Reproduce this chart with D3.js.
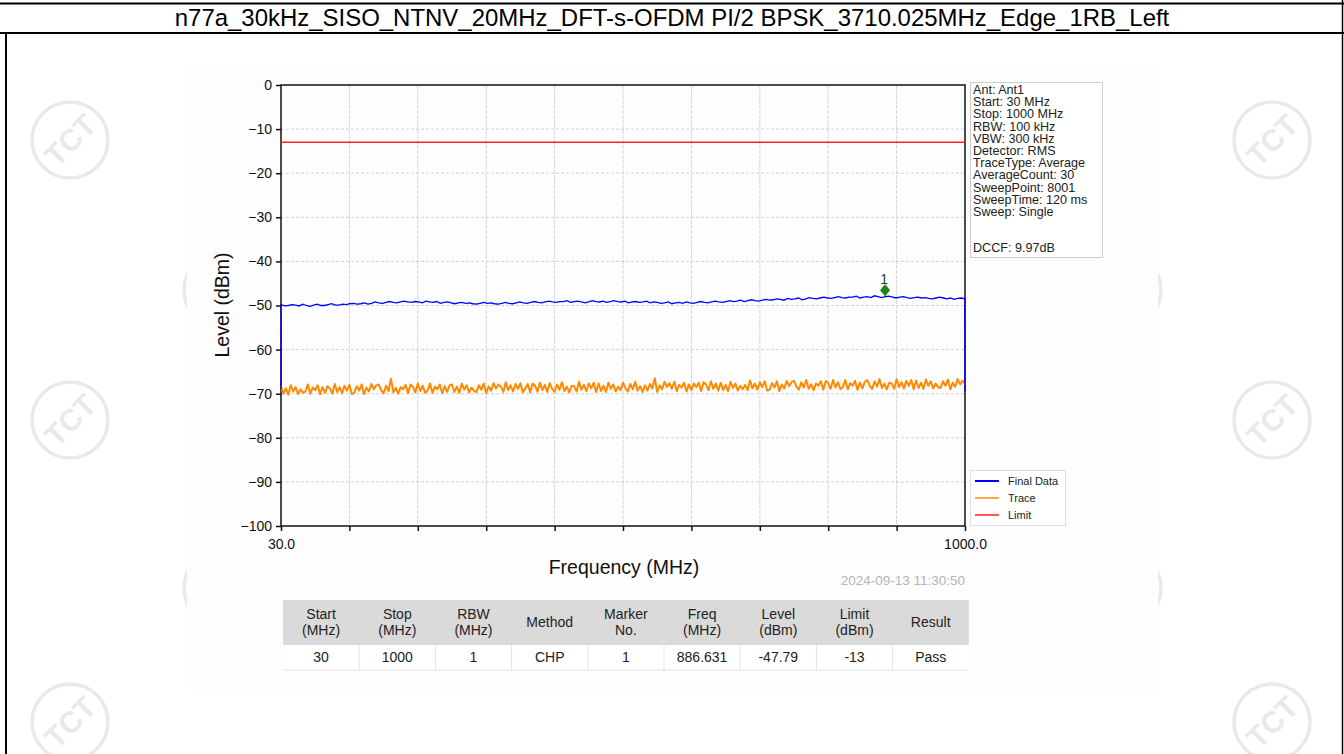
<!DOCTYPE html>
<html>
<head>
<meta charset="utf-8">
<script src="https://cdn.jsdelivr.net/npm/d3@7"></script>
<style>
  html, body { margin: 0; padding: 0; background: #ffffff; }
  svg { display: block; }
</style>
</head>
<body>
<svg id="chart" width="1344" height="754"></svg>
<script>
// ---------------- DATA ----------------
const titleText = "n77a_30kHz_SISO_NTNV_20MHz_DFT-s-OFDM PI/2 BPSK_3710.025MHz_Edge_1RB_Left";
const freqStart = 30, freqStop = 1000, sweepPoints = 8001;
const yTicks = [0, -10, -20, -30, -40, -50, -60, -70, -80, -90, -100];
const xTickLabels = ["30.0", "1000.0"];
const limitValue = -13;

// Final Data (blue): edge sweep points and the interior levels (dBm), evenly spaced
const finalEdgeStart = -69.0;
const finalEdgeStop = -69.5;
const finalData = [
  -49.8,-50.1,-50.0,-49.8,-49.9,-50.1,-49.7,-50.0,-50.2,-49.9,-49.7,-50.0,-50.0,-49.8,-49.6,-49.9,-49.9,-49.7,
  -49.8,-49.6,-49.5,-49.7,-49.6,-49.4,-49.7,-49.5,-49.2,-49.4,-49.5,-49.3,-49.1,-49.3,-49.4,-49.2,-49.0,-49.2,-49.3,-49.1,
  -49.2,-49.4,-49.0,-49.2,-49.3,-49.1,-49.5,-49.3,-49.2,-49.4,-49.6,-49.4,-49.3,-49.5,-49.4,-49.6,-49.7,-49.5,-49.3,-49.5,
  -49.4,-49.6,-49.7,-49.5,-49.3,-49.5,-49.6,-49.4,-49.2,-49.4,-49.5,-49.3,-49.1,-49.3,-49.4,-49.2,-49.0,-49.2,-49.3,-49.1,
  -49.1,-48.9,-49.3,-49.1,-49.0,-49.2,-49.4,-49.2,-48.9,-49.1,-49.2,-49.0,-49.3,-49.1,-48.9,-49.1,-49.2,-49.0,-49.4,-49.2,
  -49.1,-49.3,-49.2,-49.0,-49.4,-49.2,-49.3,-49.5,-49.4,-49.2,-49.6,-49.4,-49.3,-49.5,-49.2,-49.4,-49.5,-49.3,-49.1,-49.3,
  -49.4,-49.2,-49.0,-49.2,-49.3,-49.1,-48.9,-49.1,-49.0,-48.8,-49.1,-48.9,-48.7,-48.9,-49.0,-48.8,-48.6,-48.8,-48.7,-48.5,
  -48.6,-48.8,-48.4,-48.6,-48.5,-48.3,-48.7,-48.5,-48.2,-48.4,-48.5,-48.3,-48.1,-48.3,-48.4,-48.2,-48.0,-48.2,-48.3,-48.1,
  -48.1,-47.9,-48.3,-48.1,-48.0,-48.2,-47.8,-48.0,-48.2,-48.0,-47.9,-48.1,-48.3,-48.1,-48.0,-48.2,-48.4,-48.2,-48.1,-48.3,
  -48.2,-48.4,-48.5,-48.3,-48.1,-48.3,-48.5,-48.3,-48.6,-48.4,-48.3,-48.5
];

// Trace (orange) levels, dBm, evenly spaced over the sweep
const traceData = [
  -68.3,-70.0,-68.8,-70.2,-68.1,-69.5,-68.5,-70.1,-69.0,-69.8,
  -69.5,-67.9,-70.0,-68.6,-69.2,-68.1,-70.1,-68.5,-69.8,-68.3,
  -68.8,-70.0,-67.8,-69.6,-68.5,-69.9,-68.2,-69.3,-68.0,-70.1,
  -69.8,-68.3,-69.3,-67.9,-70.1,-68.6,-69.5,-67.8,-69.0,-68.1,
  -67.9,-69.2,-69.9,-68.2,-69.4,-66.6,-69.7,-68.7,-70.0,-68.5,
  -69.0,-68.0,-69.9,-67.9,-68.4,-69.7,-67.7,-69.4,-68.2,-69.8,
  -69.3,-67.7,-69.8,-68.4,-69.0,-67.9,-69.9,-68.3,-69.6,-68.1,
  -67.9,-69.6,-68.4,-69.8,-67.7,-69.1,-68.1,-69.7,-68.6,-69.4,
  -69.6,-68.1,-69.1,-67.7,-69.9,-68.4,-69.3,-67.6,-68.8,-67.9,
  -68.4,-69.6,-67.4,-69.2,-68.1,-69.5,-67.8,-68.9,-67.6,-69.7,
  -68.8,-67.8,-69.7,-67.7,-68.2,-69.5,-67.5,-69.2,-68.0,-69.6,
  -67.6,-68.9,-69.6,-67.9,-69.1,-67.4,-69.4,-68.4,-69.7,-68.2,
  -68.3,-69.5,-67.3,-69.1,-68.0,-69.4,-67.7,-68.8,-67.5,-69.6,
  -67.7,-69.4,-68.2,-69.6,-67.5,-68.9,-67.9,-69.5,-68.4,-69.2,
  -67.5,-68.8,-69.5,-67.8,-69.0,-67.3,-69.3,-68.3,-69.6,-68.1,
  -69.3,-67.8,-68.8,-66.5,-69.6,-68.1,-69.0,-67.3,-68.5,-67.6,
  -68.9,-67.3,-69.4,-68.0,-68.6,-67.5,-69.5,-67.9,-69.2,-67.7,
  -68.5,-67.5,-69.4,-67.4,-67.9,-69.2,-67.2,-68.9,-67.7,-69.3,
  -67.5,-69.2,-68.0,-69.4,-67.3,-68.7,-67.7,-69.3,-68.2,-69.0,
  -68.0,-69.2,-67.0,-68.8,-67.7,-69.1,-67.4,-68.5,-67.2,-69.3,
  -69.1,-67.6,-68.6,-67.2,-69.4,-67.9,-68.8,-67.1,-68.3,-67.4,
  -67.1,-68.4,-69.1,-67.4,-68.6,-66.9,-68.9,-67.9,-69.2,-67.7,
  -68.2,-67.2,-69.1,-67.1,-67.6,-68.9,-66.9,-68.6,-67.4,-69.0,
  -68.5,-66.9,-69.0,-67.6,-68.2,-67.1,-69.1,-67.5,-68.8,-67.3,
  -66.9,-68.2,-68.9,-67.2,-68.4,-66.7,-68.7,-67.7,-69.0,-67.5,
  -67.7,-68.9,-66.7,-68.5,-67.4,-68.8,-67.1,-68.2,-66.9,-69.0,
  -67.0,-68.7,-67.5,-68.9,-66.8,-68.2,-67.2,-68.8,-67.7,-68.5,
  -68.7,-67.2,-68.2,-66.8,-69.0,-67.5,-68.4,-66.7,-67.9,-67.0,
  -67.9
];

const markerFreq = 886.631, markerLevel = -47.79, markerLabel = "1";

const infoLines = ["Ant: Ant1","Start: 30 MHz","Stop: 1000 MHz","RBW: 100 kHz","VBW: 300 kHz",
  "Detector: RMS","TraceType: Average","AverageCount: 30","SweepPoint: 8001","SweepTime: 120 ms","Sweep: Single"];
const dccfText = "DCCF: 9.97dB";
const legendNames = ["Final Data", "Trace", "Limit"];
const legendColors = ["#0000ff", "#ff8a00", "#ff2020"];
const timestamp = "2024-09-13 11:30:50";

const tableHeader = [["Start","(MHz)"],["Stop","(MHz)"],["RBW","(MHz)"],["Method"],["Marker","No."],
  ["Freq","(MHz)"],["Level","(dBm)"],["Limit","(dBm)"],["Result"]];
const tableRow = ["30","1000","1","CHP","1","886.631","-47.79","-13","Pass"];

// ---------------- DRAW ----------------
const svg = d3.select("#chart");
const FONT = "'Liberation Sans', Arial, sans-serif";
const NARROW = "'Liberation Sans Narrow', 'Arial Narrow', 'Liberation Sans', Arial, sans-serif";
const wmColor = "#e9e9e9";

// watermarks
function watermark(cx, cy) {
  const g = svg.append("g").attr("transform", `translate(${cx},${cy})`);
  g.append("circle").attr("r", 38).attr("fill", "none").attr("stroke", wmColor).attr("stroke-width", 3.5);
  g.append("text").attr("transform", "rotate(-45)").attr("text-anchor", "middle").attr("dy", "0.36em")
    .attr("font-family", FONT).attr("font-weight", "bold").attr("font-size", 30).attr("fill", wmColor).text("TCT");
}
[[70,140],[1272,140],[70,420],[1272,420],[70,722],[1272,722],
 [222,290],[1123,290],[222,588],[1123,588]].forEach(p => watermark(p[0], p[1]));

// chart picture background
svg.append("rect").attr("x", 187).attr("y", 66).attr("width", 971).attr("height", 623).attr("fill", "#fdfdfd");

// frame
svg.append("line").attr("x1", 0).attr("x2", 1344).attr("y1", 3.5).attr("y2", 3.5).attr("stroke", "#000").attr("stroke-width", 2);
svg.append("line").attr("x1", 0).attr("x2", 1344).attr("y1", 33).attr("y2", 33).attr("stroke", "#000").attr("stroke-width", 2);
svg.append("line").attr("x1", 6).attr("x2", 6).attr("y1", 33).attr("y2", 754).attr("stroke", "#000").attr("stroke-width", 2);
svg.append("line").attr("x1", 1342.5).attr("x2", 1342.5).attr("y1", 0).attr("y2", 754).attr("stroke", "#000").attr("stroke-width", 1.5);

// title
const title = svg.append("text").attr("x", 672).attr("y", 26).attr("text-anchor", "middle")
  .attr("font-family", FONT).attr("font-size", 20).attr("fill", "#000").text(titleText);
const tw = title.node().getComputedTextLength();
title.attr("font-size", 20 * 995 / tw);

// scales
const x = d3.scaleLinear().domain([freqStart, freqStop]).range([281, 965]);
const y = d3.scaleLinear().domain([-100, 0]).range([526, 85]);

// grid
const xGridVals = d3.range(1, 10).map(i => freqStart + i * (freqStop - freqStart) / 10);
svg.append("g").selectAll("line").data(xGridVals).join("line")
  .attr("x1", d => x(d)).attr("x2", d => x(d)).attr("y1", y(0)).attr("y2", y(-100))
  .attr("stroke", "#d6d6d6").attr("stroke-width", 1).attr("stroke-dasharray", "4,1");
svg.append("g").selectAll("line").data(yTicks.filter(v => v !== 0 && v !== -100)).join("line")
  .attr("x1", x(freqStart)).attr("x2", x(freqStop)).attr("y1", d => y(d)).attr("y2", d => y(d))
  .attr("stroke", "#d2d2d2").attr("stroke-width", 1).attr("stroke-dasharray", "3,2");

// axes box
svg.append("rect").attr("x", 281).attr("y", 85).attr("width", 684).attr("height", 441)
  .attr("fill", "none").attr("stroke", "#111").attr("stroke-width", 1.5);

// limit line
svg.append("line").attr("x1", x(freqStart)).attr("x2", x(freqStop)).attr("y1", y(limitValue)).attr("y2", y(limitValue))
  .attr("stroke", legendColors[2]).attr("stroke-width", 1.5);

// traces
const line = d3.line().x(d => x(d[0])).y(d => y(d[1]));
const traceStep = (freqStop - freqStart) / (traceData.length - 1);
const tracePts = traceData.map((v, i) => [freqStart + i * traceStep, v]);
svg.append("path").datum(tracePts).attr("d", line).attr("fill", "none")
  .attr("stroke", legendColors[1]).attr("stroke-width", 2).attr("stroke-linejoin", "round");

const sweepStep = (freqStop - freqStart) / (sweepPoints - 1);
const innerStart = freqStart + sweepStep, innerStop = freqStop - sweepStep;
const innerStep = (innerStop - innerStart) / (finalData.length - 1);
const finalPts = [[freqStart, finalEdgeStart]]
  .concat(finalData.map((v, i) => [innerStart + i * innerStep, v]))
  .concat([[freqStop, finalEdgeStop]]);
svg.append("path").datum(finalPts).attr("d", line).attr("fill", "none")
  .attr("stroke", legendColors[0]).attr("stroke-width", 1.3);

// y axis
const yAxis = d3.axisLeft(y).tickValues(yTicks).tickSize(5).tickPadding(4)
  .tickFormat(d => d === 0 ? "0" : "\u2212" + Math.abs(d));
const yg = svg.append("g").attr("transform", "translate(281,0)").call(yAxis);
yg.select(".domain").remove();
yg.selectAll("line").attr("stroke", "#111").attr("stroke-width", 1.5);
yg.selectAll("text").attr("font-family", FONT).attr("font-size", 14).attr("fill", "#111");

// x axis
const xTickVals = d3.range(0, 11).map(i => freqStart + i * (freqStop - freqStart) / 10);
const xAxis = d3.axisBottom(x).tickValues(xTickVals).tickSize(5).tickPadding(8)
  .tickFormat((d, i) => i === 0 ? xTickLabels[0] : (i === 10 ? xTickLabels[1] : ""));
const xg = svg.append("g").attr("transform", "translate(0,526)").call(xAxis);
xg.select(".domain").remove();
xg.selectAll("line").attr("stroke", "#111").attr("stroke-width", 1.5);
xg.selectAll("text").attr("font-family", FONT).attr("font-size", 14).attr("fill", "#111");

// axis titles
svg.append("text").attr("transform", "translate(229,305) rotate(-90)").attr("text-anchor", "middle")
  .attr("font-family", FONT).attr("font-size", 19.5).attr("fill", "#111").text("Level (dBm)");
svg.append("text").attr("x", 624).attr("y", 574).attr("text-anchor", "middle")
  .attr("font-family", FONT).attr("font-size", 19.5).attr("fill", "#111").text("Frequency (MHz)");

// marker
const mx = x(markerFreq), my = y(markerLevel);
svg.append("path").attr("d", `M${mx},${my - 11} L${mx + 4.5},${my - 5.5} L${mx},${my} L${mx - 4.5},${my - 5.5} Z`)
  .attr("fill", "#138a13").attr("stroke", "#0b6e0b").attr("stroke-width", 0.8);
svg.append("text").attr("x", mx - 1).attr("y", my - 12).attr("text-anchor", "middle")
  .attr("font-family", FONT).attr("font-size", 14).attr("fill", "#1f3d1f").text(markerLabel);

// info box
svg.append("rect").attr("x", 970.5).attr("y", 82.5).attr("width", 132).attr("height", 175)
  .attr("fill", "#ffffff").attr("stroke", "#cccccc");
svg.append("g").selectAll("text").data(infoLines).join("text")
  .attr("x", 973).attr("y", (d, i) => 94 + i * 12.2)
  .attr("font-family", FONT).attr("font-size", 12.6).attr("fill", "#222").text(d => d);
svg.append("text").attr("x", 973).attr("y", 252).attr("font-family", FONT).attr("font-size", 12.6)
  .attr("fill", "#222").text(dccfText);

// legend
svg.append("rect").attr("x", 970.5).attr("y", 470.5).attr("width", 95).attr("height", 55)
  .attr("fill", "#ffffff").attr("stroke", "#dddddd");
const lg = svg.append("g").selectAll("g").data(legendNames).join("g")
  .attr("transform", (d, i) => `translate(975,${481 + i * 17})`);
lg.append("line").attr("x1", 0).attr("x2", 24).attr("y1", 0).attr("y2", 0)
  .attr("stroke", (d, i) => legendColors[i]).attr("stroke-width", (d, i) => i === 0 ? 2 : 1.5);
lg.append("text").attr("x", 33).attr("y", 0).attr("dy", "0.35em").attr("font-family", FONT)
  .attr("font-size", 11).attr("fill", "#222").text(d => d);

// timestamp
svg.append("text").attr("x", 965).attr("y", 585).attr("text-anchor", "end").attr("font-family", FONT)
  .attr("font-size", 13.5).attr("fill", "#b5b5b5").text(timestamp);

// table
const tX0 = 283, colW = 76.2, hY = 600, hH = 45, rH = 25;
svg.append("rect").attr("x", tX0).attr("y", hY).attr("width", colW * 9).attr("height", hH).attr("fill", "#dadada");
svg.append("rect").attr("x", tX0).attr("y", hY + hH).attr("width", colW * 9).attr("height", rH).attr("fill", "#ffffff");
svg.append("g").selectAll("line").data(d3.range(1, 9)).join("line")
  .attr("x1", i => tX0 + i * colW).attr("x2", i => tX0 + i * colW).attr("y1", hY + hH).attr("y2", hY + hH + rH)
  .attr("stroke", "#e4e4e4");
svg.append("line").attr("x1", tX0).attr("x2", tX0 + colW * 9).attr("y1", hY + hH + rH).attr("y2", hY + hH + rH)
  .attr("stroke", "#e0e0e0");
const hg = svg.append("g").selectAll("text").data(tableHeader).join("text")
  .attr("text-anchor", "middle").attr("font-family", NARROW).attr("font-size", 14).attr("fill", "#222");
hg.each(function(d, i) {
  const t = d3.select(this);
  const cx = tX0 + (i + 0.5) * colW;
  if (d.length === 1) {
    t.append("tspan").attr("x", cx).attr("y", hY + 27).text(d[0]);
  } else {
    t.append("tspan").attr("x", cx).attr("y", hY + 19).text(d[0]);
    t.append("tspan").attr("x", cx).attr("y", hY + 35).text(d[1]);
  }
});
svg.append("g").selectAll("text").data(tableRow).join("text")
  .attr("x", (d, i) => tX0 + (i + 0.5) * colW).attr("y", hY + hH + 17).attr("text-anchor", "middle")
  .attr("font-family", NARROW).attr("font-size", 14).attr("fill", "#222").text(d => d);
</script>
</body>
</html>
